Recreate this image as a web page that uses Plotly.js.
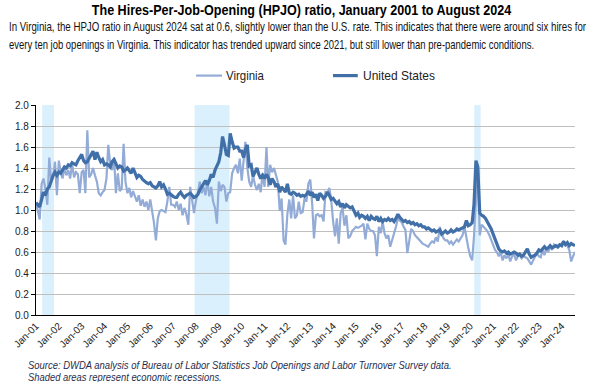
<!DOCTYPE html>
<html>
<head>
<meta charset="utf-8">
<script src="https://cdn.plot.ly/plotly-3.0.1.min.js"></script>
<style>html,body{margin:0;padding:0;background:#fff;}#chart{width:603px;height:382px;}</style>
</head>
<body>
<div id="chart"></div>
<script>
// Monthly HPJO ratio, Jan 2001 - Aug 2024
const startYear = 2001;
const startMonth = 1;

const virginia = [
  1.07, 0.97, 0.91, 1.25, 1.30, 1.20, 1.05, 1.50, 1.27, 1.31, 1.46, 1.14, // 2001
  1.47, 1.35, 1.30, 1.40, 1.33, 1.38, 1.30, 1.44, 1.31, 1.36, 1.34, 1.16, // 2002
  1.36, 1.38, 1.16, 1.76, 1.31, 1.34, 1.40, 1.33, 1.27, 1.16, 1.14, 1.17, // 2003
  1.19, 1.30, 1.62, 1.44, 1.38, 1.50, 1.16, 1.35, 1.18, 1.20, 1.63, 1.27, // 2004
  1.16, 1.21, 1.12, 1.18, 1.12, 1.08, 1.14, 1.04, 1.10, 1.03, 1.08, 1.00, // 2005
  1.10, 0.98, 0.88, 0.71, 0.92, 0.99, 1.00, 0.99, 0.98, 1.08, 1.22, 1.05, // 2006
  1.05, 1.03, 1.08, 1.00, 1.06, 0.95, 1.02, 0.96, 0.86, 1.22, 1.10, 0.97, // 2007
  1.09, 1.16, 1.27, 1.16, 1.22, 1.14, 1.29, 1.13, 1.22, 1.08, 1.02, 0.87, // 2008
  1.27, 1.18, 1.24, 1.22, 1.08, 1.16, 1.17, 1.35, 1.40, 1.43, 1.35, 1.49, // 2009
  1.28, 1.46, 1.65, 1.40, 1.27, 1.22, 1.33, 1.24, 1.19, 1.25, 1.17, 1.35, // 2010
  1.22, 1.60, 1.22, 1.43, 1.36, 1.40, 1.32, 1.27, 0.99, 1.11, 0.71, 0.67, // 2011
  0.96, 1.10, 0.92, 1.14, 0.92, 0.95, 1.08, 0.97, 0.98, 1.11, 1.08, 1.25, // 2012
  1.29, 1.05, 0.73, 0.95, 0.96, 0.94, 0.95, 0.89, 1.17, 1.16, 1.21, 1.10, // 2013
  0.89, 0.75, 0.92, 0.68, 0.97, 1.02, 0.85, 0.95, 0.73, 0.75, 0.80, 0.82, // 2014
  0.84, 0.83, 0.84, 0.85, 0.87, 0.72, 0.87, 0.82, 0.80, 0.80, 0.76, 0.56, // 2015
  0.84, 0.78, 0.89, 0.78, 0.73, 0.76, 0.65, 0.71, 0.78, 0.84, 0.92, 0.90, // 2016
  0.88, 0.84, 0.81, 0.59, 0.70, 0.82, 0.80, 0.76, 0.74, 0.72, 0.70, 0.68, // 2017
  0.67, 0.66, 0.65, 0.68, 0.70, 0.69, 0.74, 0.70, 0.84, 0.78, 0.73, 0.71, // 2018
  0.71, 0.68, 0.70, 0.67, 0.70, 0.72, 0.70, 0.73, 0.76, 0.84, 0.73, 0.64, // 2019
  0.56, 0.52, 0.75, 1.10, 1.42, 0.76, 0.86, 0.84, 0.82, 0.80, 0.76, 0.71, // 2020
  0.67, 0.62, 0.60, 0.56, 0.60, 0.52, 0.57, 0.54, 0.58, 0.51, 0.56, 0.58, // 2021
  0.52, 0.56, 0.57, 0.54, 0.56, 0.55, 0.54, 0.51, 0.48, 0.52, 0.56, 0.59, // 2022
  0.56, 0.55, 0.62, 0.57, 0.64, 0.60, 0.65, 0.62, 0.67, 0.65, 0.64, 0.66, // 2023
  0.68, 0.70, 0.68, 0.66, 0.62, 0.51, 0.56, 0.60                          // 2024
];

const unitedStates = [
  1.07, 1.05, 1.03, 1.10, 1.17, 1.14, 1.20, 1.22, 1.29, 1.33, 1.36, 1.33, // 2001
  1.36, 1.35, 1.38, 1.41, 1.40, 1.43, 1.42, 1.45, 1.44, 1.43, 1.47, 1.50, // 2002
  1.53, 1.47, 1.45, 1.46, 1.49, 1.52, 1.56, 1.48, 1.55, 1.50, 1.46, 1.48, // 2003
  1.43, 1.44, 1.43, 1.41, 1.46, 1.48, 1.44, 1.40, 1.42, 1.41, 1.37, 1.38, // 2004
  1.40, 1.37, 1.35, 1.40, 1.36, 1.31, 1.33, 1.32, 1.29, 1.27, 1.26, 1.25, // 2005
  1.26, 1.23, 1.22, 1.21, 1.23, 1.27, 1.22, 1.24, 1.20, 1.15, 1.16, 1.14, // 2006
  1.13, 1.12, 1.12, 1.15, 1.17, 1.14, 1.12, 1.14, 1.15, 1.16, 1.14, 1.12, // 2007
  1.13, 1.15, 1.19, 1.22, 1.24, 1.28, 1.24, 1.28, 1.34, 1.31, 1.38, 1.43, // 2008
  1.46, 1.55, 1.70, 1.62, 1.53, 1.52, 1.73, 1.65, 1.59, 1.60, 1.60, 1.56, // 2009
  1.56, 1.50, 1.58, 1.62, 1.42, 1.43, 1.32, 1.36, 1.40, 1.34, 1.30, 1.33, // 2010
  1.30, 1.34, 1.31, 1.24, 1.30, 1.27, 1.22, 1.25, 1.17, 1.22, 1.19, 1.17, // 2011
  1.25, 1.16, 1.15, 1.17, 1.16, 1.14, 1.15, 1.13, 1.14, 1.13, 1.15, 1.18, // 2012
  1.14, 1.17, 1.12, 1.15, 1.09, 1.16, 1.14, 1.11, 1.13, 1.17, 1.14, 1.10, // 2013
  1.11, 1.08, 1.06, 1.08, 1.03, 1.06, 1.02, 1.05, 1.03, 1.02, 1.03, 0.98, // 2014
  0.95, 0.97, 0.93, 0.95, 0.94, 0.92, 0.94, 0.90, 0.94, 0.92, 0.91, 0.94, // 2015
  0.89, 0.92, 0.89, 0.91, 0.90, 0.92, 0.90, 0.91, 0.89, 0.92, 0.96, 0.93, // 2016
  0.91, 0.89, 0.90, 0.88, 0.89, 0.87, 0.88, 0.86, 0.87, 0.85, 0.86, 0.84, // 2017
  0.84, 0.82, 0.83, 0.81, 0.80, 0.81, 0.79, 0.80, 0.81, 0.77, 0.79, 0.80, // 2018
  0.78, 0.79, 0.81, 0.79, 0.80, 0.82, 0.81, 0.82, 0.83, 0.84, 0.90, 0.85, // 2019
  0.86, 0.88, 1.05, 1.47, 1.41, 0.97, 0.95, 0.94, 0.92, 0.89, 0.86, 0.82, // 2020
  0.77, 0.72, 0.67, 0.63, 0.61, 0.60, 0.61, 0.59, 0.60, 0.58, 0.59, 0.60, // 2021
  0.59, 0.57, 0.58, 0.56, 0.57, 0.60, 0.63, 0.58, 0.55, 0.56, 0.57, 0.59, // 2022
  0.62, 0.61, 0.63, 0.65, 0.63, 0.64, 0.66, 0.64, 0.65, 0.66, 0.65, 0.67, // 2023
  0.66, 0.70, 0.67, 0.69, 0.66, 0.68, 0.67, 0.66                          // 2024
];

// Recession periods (shaded)
const recessions = [
  ['2001-04-10', '2001-10-15'],
  ['2007-12-10', '2009-06-20'],
  ['2020-03-05', '2020-06-15']
];

const seriesNames = ['Virginia', 'United States'];

const titleText = 'The Hires-Per-Job-Opening (HPJO) ratio, January 2001 to August 2024';
const subtitleLines = [
  'In Virginia, the HPJO ratio in August 2024 sat at 0.6, slightly lower than the U.S. rate. This indicates that there were around six hires for',
  'every ten job openings in Virginia. This indicator has trended upward since 2021, but still lower than pre-pandemic conditions.'
];
const sourceLines = [
  'Source: DWDA analysis of Bureau of Labor Statistics Job Openings and Labor Turnover Survey data.',
  'Shaded areas represent economic recessions.'
];

function monthDates(n) {
  const out = [];
  for (let i = 0; i < n; i++) {
    const t = (startMonth - 1) + i;
    const y = startYear + Math.floor(t / 12);
    const m = (t % 12) + 1;
    out.push(y + '-' + String(m).padStart(2, '0') + '-01');
  }
  return out;
}
const dates = monthDates(unitedStates.length);

const colVA = '#93ACD7';
const colUS = '#4170A8';
const sans = '"Liberation Sans", Arial, sans-serif';

const traces = [
  {x: dates, y: virginia, type: 'scatter', mode: 'lines', name: seriesNames[0],
   line: {color: colVA, width: 2.2}, hoverinfo: 'skip'},
  {x: dates, y: unitedStates, type: 'scatter', mode: 'lines', name: seriesNames[1],
   line: {color: colUS, width: 3.2}, hoverinfo: 'skip'}
];

const shapes = recessions.map(r => ({
  type: 'rect', xref: 'x', yref: 'y', x0: r[0], x1: r[1], y0: 0, y1: 2.0,
  fillcolor: '#DAF0FD', line: {width: 0}, layer: 'below'
}));
// manual legend samples
shapes.push({type: 'line', xref: 'paper', yref: 'paper', x0: 0.297, x1: 0.345, y0: 1.14, y1: 1.14,
  line: {color: colVA, width: 2.2}});
shapes.push({type: 'line', xref: 'paper', yref: 'paper', x0: 0.551, x1: 0.597, y0: 1.14, y1: 1.14,
  line: {color: colUS, width: 3.2}});

function note(text, x, y, size, color, style) {
  return {text: text, xref: 'paper', yref: 'paper', x: x, y: y, xanchor: 'left', yanchor: 'middle',
          align: 'left', showarrow: false, borderpad: 0,
          font: {family: sans, size: size, color: color, style: style || 'normal'}};
}

const annotations = [
  note(subtitleLines[0], -0.052, 1.37, 12, '#111'),
  note(subtitleLines[1], -0.052, 1.285, 12, '#111'),
  note(seriesNames[0], 0.351, 1.14, 13, '#222'),
  note(seriesNames[1], 0.604, 1.14, 13, '#222'),
  note(sourceLines[0], -0.017, -0.238, 11, '#1F2D4D', 'italic'),
  note(sourceLines[1], -0.017, -0.295, 11, '#1F2D4D', 'italic')
];

const layout = {
  width: 603, height: 382,
  margin: {l: 36, r: 28, t: 105, b: 67},
  paper_bgcolor: '#fff', plot_bgcolor: '#fff',
  showlegend: false,
  title: {text: titleText, x: 0.5, xanchor: 'center', y: 0.974, yanchor: 'middle',
          font: {family: sans, size: 14.5, color: '#000', weight: 'bold'}},
  xaxis: {type: 'date', range: ['2001-01-01', '2024-08-01'], showgrid: false, zeroline: false,
          showline: true, linecolor: '#000', linewidth: 1.2, ticks: '',
          tick0: '2001-01-01', dtick: 'M12', tickformat: '%b-%y', tickangle: -45,
          tickfont: {family: sans, size: 10, color: '#222'}, fixedrange: true},
  yaxis: {range: [0, 2.0], dtick: 0.2, tickformat: '.1f', showgrid: true, gridcolor: '#BFBFBF', gridwidth: 1,
          zeroline: false, showline: true, linecolor: '#000', linewidth: 1.2, ticks: 'outside', ticklen: 4,
          tickcolor: '#000', tickfont: {family: sans, size: 10, color: '#222'}, fixedrange: true},
  shapes: shapes,
  annotations: annotations
};

// Narrow-font look: target rendered widths (px) of the reference texts
const textWidths = [
  [titleText, 420],
  [subtitleLines[0], 578],
  [subtitleLines[1], 526],
  [seriesNames[0], 38],
  [seriesNames[1], 72],
  [sourceLines[0], 424],
  [sourceLines[1], 194]
];

function condense(t, w) {
  const natural = t.getComputedTextLength();
  if (!natural) return;
  const k = w / natural;
  const bb = t.getBBox();
  let tx = 0;
  const tr = t.getAttribute('transform');
  if (tr) {
    const m = /translate\(\s*([-\d.eE]+)/.exec(tr);
    if (m) tx = parseFloat(m[1]);
  }
  const anchor = t.getAttribute('text-anchor') || 'start';
  let x0 = bb.x + tx;
  if (anchor === 'middle') x0 = bb.x + bb.width / 2 + tx;
  if (anchor === 'end') x0 = bb.x + bb.width + tx;
  const g = document.createElementNS('http://www.w3.org/2000/svg', 'g');
  g.setAttribute('transform', 'translate(' + x0 + ',0) scale(' + k + ',1) translate(' + (-x0) + ',0)');
  t.parentNode.insertBefore(g, t);
  g.appendChild(t);
}

Plotly.newPlot('chart', traces, layout, {displayModeBar: false, staticPlot: true}).then(gd => {
  const map = new Map(textWidths);
  Array.from(gd.querySelectorAll('text')).forEach(t => {
    const w = map.get(t.textContent);
    if (w) condense(t, w);
  });
});
</script>
</body>
</html>
